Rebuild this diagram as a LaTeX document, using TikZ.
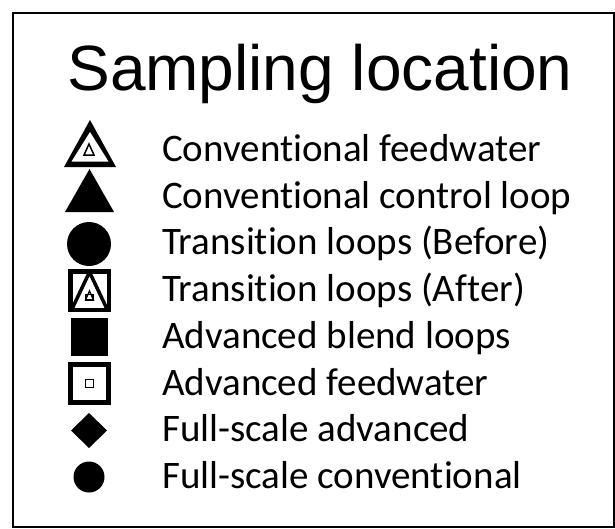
\documentclass[tikz,border=0pt]{standalone}
\usepackage{fontspec}
\setmainfont[Ligatures=CommonOff]{Carlito}
\newfontfamily\titlefont{Liberation Sans}
\begin{document}
\begin{tikzpicture}[x=1pt,y=-1pt,
  item/.style={anchor=base west,inner sep=0pt,font=\fontsize{39}{46}\selectfont},
  ttl/.style={anchor=base,inner sep=0pt,font=\titlefont\fontsize{64}{70}\selectfont},
  blk/.style={fill=black,draw=none}]
\useasboundingbox (0,0) rectangle (615,528);
\fill[white] (0,0) rectangle (615,528);
\draw[line width=2pt] (13,13) rectangle (614,527);
\node[ttl] (title) at (320,90) {Sampling location};
% labels
\node[item] (l1) at (162,161.5) {Conventional feedwater};
\node[item] (l2) at (162,208.2) {Conventional control loop};
\node[item] (l3) at (162,254.9) {Transition loops (Before)};
\node[item] (l4) at (162,301.6) {Transition loops (After)};
\node[item] (l5) at (162,348.3) {Advanced blend loops};
\node[item] (l6) at (162,395) {Advanced feedwater};
\node[item] (l7) at (162,441.7) {Full-scale advanced};
\node[item] (l8) at (162,488.4) {Full-scale conventional};
% 1 open triangle
\fill[black] (64,167) -- (116,167) -- (90,120) -- cycle;
\fill[white] (71.5,161.5) -- (108.5,161.5) -- (90,132) -- cycle;
\draw[line width=1.5pt,line join=miter] (84,155) -- (94,155) -- (89,144) -- cycle;
% 2 filled triangle
\fill[black] (65,212) -- (114,212) -- (89.5,169) -- cycle;
% 3 circle
\fill[black] (89,244) circle[radius=22];
% 4 square with triangle
\draw[line width=4.5pt] (70.25,271.25) rectangle (108.75,309.75);
\draw[line width=3.5pt,line join=round] (72,309) -- (89.5,272) -- (107,309);
\draw[line width=1.3pt] (85.5,300) -- (93.5,300) -- (89.5,291) -- cycle;
\draw[line width=1.3pt] (86,294.5) rectangle (93,300);
% 5 filled square
\fill[black] (71,318) rectangle (108,356);
% 6 open square
\draw[line width=5pt] (70.5,364.5) rectangle (108.5,402.5);
\draw[line width=1.5pt] (85.5,379.5) rectangle (93.5,387.5);
% 7 diamond
\fill[black] (89,413) -- (107,430.5) -- (89,448) -- (71,430.5) -- cycle;
% 8 circle
\fill[black] (89,477) circle[radius=15.5];
\end{tikzpicture}
\end{document}
